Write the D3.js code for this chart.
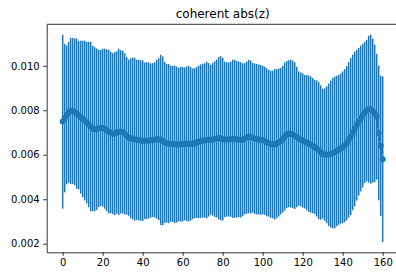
<!DOCTYPE html>
<html>
<head>
<meta charset="utf-8">
<script src="https://cdn.jsdelivr.net/npm/d3@7"></script>
<style>
  body { margin: 0; background: #fff; }
  svg { display: block; }
  text { font-family: "DejaVu Sans", sans-serif; fill: #000; }
</style>
</head>
<body>
<div id="chart"></div>
<script>
// chart title
var title = "coherent abs(z)"

// mean value per index (0..160)
var mean = [
  0.00749, 0.00765, 0.00779, 0.00791, 0.00797, 0.00797, 0.00793, 0.00785, 0.00778, 0.00769,
  0.00761, 0.00754, 0.00745, 0.00736, 0.00727, 0.00718, 0.00715, 0.00715, 0.00718, 0.00721,
  0.00722, 0.00717, 0.00710, 0.00704, 0.00700, 0.00695, 0.00695, 0.00700, 0.00703, 0.00703,
  0.00702, 0.00694, 0.00685, 0.00677, 0.00674, 0.00673, 0.00670, 0.00667, 0.00666, 0.00664,
  0.00663, 0.00663, 0.00663, 0.00664, 0.00664, 0.00666, 0.00667, 0.00670, 0.00670, 0.00667,
  0.00662, 0.00656, 0.00652, 0.00650, 0.00650, 0.00649, 0.00647, 0.00646, 0.00646, 0.00647,
  0.00647, 0.00649, 0.00649, 0.00650, 0.00649, 0.00649, 0.00652, 0.00655, 0.00658, 0.00661,
  0.00663, 0.00664, 0.00666, 0.00667, 0.00667, 0.00669, 0.00670, 0.00673, 0.00674, 0.00674,
  0.00670, 0.00669, 0.00669, 0.00669, 0.00670, 0.00672, 0.00672, 0.00670, 0.00669, 0.00667,
  0.00667, 0.00672, 0.00677, 0.00682, 0.00680, 0.00676, 0.00672, 0.00670, 0.00669, 0.00667,
  0.00666, 0.00663, 0.00656, 0.00652, 0.00647, 0.00646, 0.00647, 0.00650, 0.00655, 0.00661,
  0.00670, 0.00682, 0.00691, 0.00695, 0.00695, 0.00692, 0.00686, 0.00680, 0.00673, 0.00669,
  0.00664, 0.00659, 0.00655, 0.00650, 0.00646, 0.00641, 0.00635, 0.00628, 0.00619, 0.00610,
  0.00604, 0.00601, 0.00600, 0.00600, 0.00603, 0.00607, 0.00611, 0.00617, 0.00622, 0.00628,
  0.00634, 0.00641, 0.00652, 0.00667, 0.00682, 0.00700, 0.00716, 0.00733, 0.00748, 0.00763,
  0.00776, 0.00790, 0.00799, 0.00805, 0.00805, 0.00798, 0.00786, 0.00771, 0.00698, 0.00640,
  0.00580
]

// top end of each error bar (bars are symmetric about the mean)
var upper = [
  0.01140, 0.01099, 0.01091, 0.01108, 0.01125, 0.01125, 0.01123, 0.01123, 0.01111, 0.01113,
  0.01113, 0.01113, 0.01108, 0.01108, 0.01108, 0.01090, 0.01084, 0.01078, 0.01072, 0.01072,
  0.01077, 0.01077, 0.01074, 0.01072, 0.01063, 0.01057, 0.01062, 0.01065, 0.01077, 0.01070,
  0.01068, 0.01057, 0.01039, 0.01028, 0.01034, 0.01037, 0.01036, 0.01027, 0.01027, 0.01025,
  0.01024, 0.01015, 0.01016, 0.01015, 0.01011, 0.01012, 0.01016, 0.01027, 0.01034, 0.01050,
  0.01042, 0.01018, 0.01009, 0.01008, 0.01001, 0.01000, 0.01001, 0.00997, 0.00991, 0.00995,
  0.00994, 0.00993, 0.00997, 0.01000, 0.00994, 0.00988, 0.00989, 0.00994, 0.01001, 0.01006,
  0.01009, 0.01011, 0.01018, 0.01012, 0.01004, 0.01012, 0.01020, 0.01028, 0.01039, 0.01043,
  0.01036, 0.01019, 0.01016, 0.01015, 0.01019, 0.01028, 0.01027, 0.01022, 0.01019, 0.01016,
  0.01011, 0.01012, 0.01019, 0.01027, 0.01024, 0.01013, 0.01011, 0.01009, 0.01006, 0.01004,
  0.01000, 0.00996, 0.00989, 0.00982, 0.00978, 0.00978, 0.00985, 0.00985, 0.00988, 0.00990,
  0.01000, 0.01015, 0.01022, 0.01025, 0.01027, 0.01024, 0.01016, 0.00996, 0.00975, 0.00970,
  0.00966, 0.00959, 0.00958, 0.00957, 0.00952, 0.00945, 0.00937, 0.00934, 0.00927, 0.00912,
  0.00896, 0.00899, 0.00908, 0.00920, 0.00933, 0.00945, 0.00952, 0.00955, 0.00959, 0.00966,
  0.00975, 0.00985, 0.00999, 0.01017, 0.01035, 0.01050, 0.01064, 0.01072, 0.01080, 0.01091,
  0.01099, 0.01107, 0.01117, 0.01135, 0.01140, 0.01122, 0.01095, 0.01054, 0.01001, 0.00956,
  0.00952
]

var xTicks = [0, 20, 40, 60, 80, 100, 120, 140, 160]
var yTicks = [0.002, 0.004, 0.006, 0.008, 0.010]

var blue = "#1f77b4"
var W = 396, H = 273
var margin = {top: 24.3, left: 46.7, bottom: 20.7}
var plotRight = 398.7   // axes run a bit past the right edge of the picture

var data = mean.map(function(m, i) {
  var e = upper[i] - m
  return {i: i, m: m, lo: m - e, hi: m + e}
})

var svg = d3.select("#chart").append("svg")
  .attr("width", W)
  .attr("height", H)

// matplotlib style 5% margins
var xmax = data.length - 1
var x = d3.scaleLinear()
  .domain([-0.05 * xmax, xmax * 1.05])
  .range([margin.left, plotRight])

var lo = d3.min(data, function(d) { return d.lo })
var hi = d3.max(data, function(d) { return d.hi })
var pad = (hi - lo) * 0.05
var y = d3.scaleLinear()
  .domain([lo - pad, hi + pad])
  .range([H - margin.bottom, margin.top])

// error bars
svg.append("g")
  .selectAll("line")
  .data(data)
  .enter()
  .append("line")
  .attr("x1", function(d) { return x(d.i) })
  .attr("x2", function(d) { return x(d.i) })
  .attr("y1", function(d) { return y(d.lo) })
  .attr("y2", function(d) { return y(d.hi) })
  .attr("stroke", blue)
  .attr("stroke-width", 1.5)

// mean line + markers
var line = d3.line()
  .x(function(d) { return x(d.i) })
  .y(function(d) { return y(d.m) })

svg.append("path")
  .datum(data)
  .attr("d", line)
  .attr("fill", "none")
  .attr("stroke", blue)
  .attr("stroke-width", 1.5)

svg.append("g")
  .selectAll("circle")
  .data(data)
  .enter()
  .append("circle")
  .attr("cx", function(d) { return x(d.i) })
  .attr("cy", function(d) { return y(d.m) })
  .attr("r", 3)
  .attr("fill", blue)

// axes
var xAxis = svg.append("g")
  .attr("transform", "translate(0," + (H - margin.bottom) + ")")
  .call(d3.axisBottom(x).tickValues(xTicks).tickSize(3.5).tickPadding(3.5).tickSizeOuter(0))

var yAxis = svg.append("g")
  .attr("transform", "translate(" + margin.left + ",0)")
  .call(d3.axisLeft(y).tickValues(yTicks).tickFormat(d3.format(".3f")).tickSize(3.5).tickPadding(3.5).tickSizeOuter(0))

svg.selectAll(".tick text")
  .style("font-family", "DejaVu Sans")
  .style("font-size", "10px")
  .attr("fill", "#000")
svg.selectAll(".tick line").attr("stroke", "#000").attr("stroke-width", 0.8)
svg.selectAll(".domain").attr("stroke", "#000").attr("stroke-width", 0.8)

// top spine
svg.append("line")
  .attr("x1", margin.left)
  .attr("x2", plotRight)
  .attr("y1", margin.top)
  .attr("y2", margin.top)
  .attr("stroke", "#000")
  .attr("stroke-width", 0.8)

svg.append("text")
  .attr("x", (margin.left + plotRight) / 2)
  .attr("y", margin.top - 6)
  .attr("text-anchor", "middle")
  .style("font-size", "12px")
  .text(title)
</script>
</body>
</html>
